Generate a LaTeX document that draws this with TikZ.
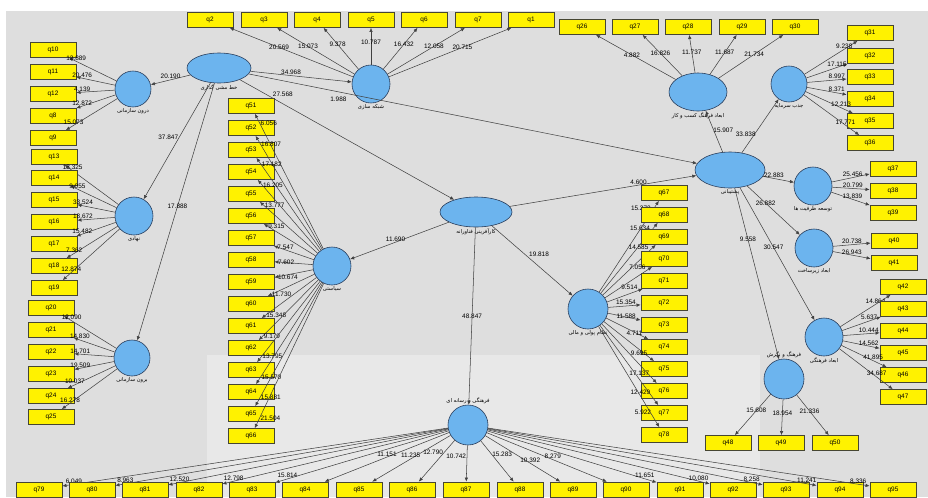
\documentclass[tikz,border=0pt]{standalone}
\usepackage{fontspec}
\setmainfont{Liberation Sans}
\newfontfamily\fafont[Script=Arabic]{DejaVu Sans}
\TeXXeTstate=1
\usetikzlibrary{shapes.geometric,arrows.meta}
\definecolor{bgray}{RGB}{222,222,222}
\definecolor{lgray}{RGB}{232,232,232}
\definecolor{lvblue}{RGB}{108,180,238}
\definecolor{lvline}{RGB}{40,60,90}
\definecolor{boxline}{RGB}{70,70,50}

\begin{document}
\begin{tikzpicture}[x=0.03cm, y=-0.03cm,
  lv/.style={circle, draw=lvline, fill=lvblue, line width=0.5pt, inner sep=0pt},
  lve/.style={ellipse, draw=lvline, fill=lvblue, line width=0.5pt, inner sep=0pt},
  ind/.style={rectangle, draw=boxline, fill=yellow, line width=0.6pt, minimum width=1.38cm, minimum height=0.45cm, inner sep=0pt, font=\fontsize{5.5}{6}\selectfont},
  ar/.style={draw=black!75, line width=0.45pt, -{Latex[length=3.5pt,width=3pt]}},
  lbl/.style={font=\fontsize{5.5}{6}\selectfont, inner sep=0.6pt},
  nm/.style={font=\fontsize{4.5}{5}\selectfont\fafont, inner sep=1pt}]
\useasboundingbox (0,0) rectangle (928,497);
\fill[white] (0,0) rectangle (928,497);
\fill[bgray] (6,11) rectangle (928,497);
\fill[lgray] (207,355) rectangle (760,497);

% latent variables
\node[lve, minimum width=1.92cm, minimum height=0.9cm, label={[nm]below:{\beginR خط مشی گذاری\endR}}] (pol) at (219,68) {};
\node[lv, minimum size=1.14cm, label={[nm]below:{\beginR شبکه سازی\endR}}] (net) at (371,84) {};
\node[lv, minimum size=1.08cm, label={[nm]below:{\beginR درون سازمانی\endR}}] (intra) at (133,89) {};
\node[lv, minimum size=1.14cm, label={[nm]below:{\beginR نهادی\endR}}] (inst) at (134,216) {};
\node[lv, minimum size=1.08cm, label={[nm]below:{\beginR برون سازمانی\endR}}] (extra) at (132,358) {};
\node[lv, minimum size=1.14cm, label={[nm]below:{\beginR سیاستی\endR}}] (gov) at (332,266) {};
\node[lve, minimum width=2.16cm, minimum height=0.9cm, label={[nm]below:{\beginR کارآفرینی فناورانه\endR}}] (te) at (476,212) {};
\node[lv, minimum size=1.2cm, label={[nm]below:{\beginR نظام پولی و مالی\endR}}] (fin) at (588,309) {};
\node[lv, minimum size=1.2cm, label={[nm]above:{\beginR فرهنگی و رسانه ای\endR}}] (med) at (468,425) {};
\node[lve, minimum width=2.1cm, minimum height=1.08cm, label={[nm]below:{\beginR پشتیبانی\endR}}] (sup) at (730,170) {};
\node[lve, minimum width=1.74cm, minimum height=1.14cm, label={[nm]below:{\beginR ابعاد فرهنگ کسب و کار\endR}}] (biz) at (698,92) {};
\node[lv, minimum size=1.08cm, label={[nm]below:{\beginR جذب سرمایه\endR}}] (cap) at (789,84) {};
\node[lv, minimum size=1.14cm, label={[nm]below:{\beginR توسعه ظرفیت ها\endR}}] (dev) at (813,186) {};
\node[lv, minimum size=1.14cm, label={[nm]below:{\beginR ابعاد زیرساخت\endR}}] (infra) at (814,248) {};
\node[lv, minimum size=1.14cm, label={[nm]below:{\beginR ابعاد فرهنگی\endR}}] (cult) at (824,337) {};
\node[lv, minimum size=1.2cm, label={[nm]above:{\beginR فرهنگ و نگرش\endR}}] (att) at (784,379) {};

% structural paths
\draw[ar] (pol) -- node[lbl, pos=.5, anchor=south] {20.190} (intra);
\draw[ar] (pol) -- node[lbl, pos=.4, anchor=south] {34.968} (net);
\draw[ar] (pol) -- node[lbl, pos=.15, anchor=south west] {27.568} (te);
\draw[ar] (pol) -- node[lbl, pos=.2, anchor=north, yshift=-4pt] {1.988} (sup);
\draw[ar] (pol) -- node[lbl, pos=.47, anchor=east] {37.847} (inst);
\draw[ar] (pol) -- node[lbl, pos=.48] {17.888} (extra);
\draw[ar] (te) -- node[lbl, pos=.54, anchor=south] {11.690} (gov);
\draw[ar] (te) -- node[lbl, pos=.45, anchor=south west] {19.818} (fin);
\draw[ar] (te) -- node[lbl, pos=.5] {48.847} (med);
\draw[ar] (te) -- node[lbl, pos=.69, anchor=south] {4.600} (sup);
\draw[ar] (sup) -- node[lbl, pos=.6, anchor=north west] {15.907} (biz);
\draw[ar] (sup) -- node[lbl, pos=.4, anchor=north east] {33.838} (cap);
\draw[ar] (sup) -- node[lbl, pos=.35, anchor=south] {22.883} (dev);
\draw[ar] (sup) -- node[lbl, pos=.35] {26.882} (infra);
\draw[ar] (sup) -- node[lbl, pos=.45] {30.547} (cult);
\draw[ar] (sup) -- node[lbl, pos=.3] {9.558} (att);

% indicators
\foreach \n/\x/\v in {q2/210/20.569, q3/264/15.073, q4/317/9.378, q5/371/10.787, q6/424/16.432, q7/478/12.058, q1/531/20.715} {
  \node[ind] (\n) at (\x,20) {\n};
  \draw[ar] (net) -- node[lbl, pos=.6] {\v} (\n);
}
\foreach \n/\y/\v in {q10/50/12.889, q11/72/20.476, q12/94/4.139, q8/116/12.872, q9/138/15.073} {
  \node[ind] (\n) at (53,\y) {\n};
  \draw[ar] (intra) -- node[lbl, pos=.85, anchor=south] {\v} (\n);
}
\foreach \n/\y/\v in {q13/157/13.325, q14/178/9.055, q15/200/33.524, q16/222/18.672, q17/244/15.482, q18/266/7.362, q19/288/12.874} {
  \node[ind] (\n) at (54,\y) {\n};
  \draw[ar] (inst) -- node[lbl, pos=.85, anchor=south] {\v} (\n);
}
\foreach \n/\y/\v in {q20/308/12.090, q21/330/14.830, q22/352/14.701, q23/374/19.509, q24/396/10.037, q25/417/16.278} {
  \node[ind] (\n) at (51,\y) {\n};
  \draw[ar] (extra) -- node[lbl, pos=.85, anchor=south] {\v} (\n);
}
\foreach \n/\y in {q51/106, q52/128, q53/150, q54/172, q55/194, q56/216, q57/238, q58/260, q59/282, q60/304, q61/326, q62/348, q63/370, q64/392, q65/414, q66/436}
  \node[ind] (\n) at (251,\y) {\n};
\foreach \n/\v in {q51/6.056, q52/16.807, q53/17.182, q54/16.205, q55/13.777, q56/9.315, q57/7.547, q58/7.602, q59/10.674, q60/11.730, q61/15.348, q62/9.179, q63/13.795, q64/15.570, q65/15.881, q66/21.504}
  \draw[ar] (gov) -- node[lbl, pos=.93, anchor=west] {\v} (\n);
\foreach \n/\y/\v in {q67/193/15.273, q68/215/15.634, q69/237/14.585, q70/259/7.056, q71/281/9.514, q72/303/15.354, q73/325/11.588, q74/347/4.711, q75/369/9.695, q76/391/17.137, q77/413/12.429, q78/435/5.922} {
  \node[ind] (\n) at (664,\y) {\n};
  \draw[ar] (fin) -- node[lbl, pos=.88, anchor=south east] {\v} (\n);
}
\foreach \n/\x/\v in {q26/582/4.882, q27/635/16.826, q28/688/11.737, q29/742/11.687, q30/795/21.734} {
  \node[ind] (\n) at (\x,27) {\n};
  \draw[ar] (biz) -- node[lbl, pos=.55] {\v} (\n);
}
\foreach \n/\y/\v in {q31/33/9.238, q32/56/17.115, q33/77/8.997, q34/99/8.371, q35/121/12.213, q36/143/17.771} {
  \node[ind] (\n) at (870,\y) {\n};
  \draw[ar] (cap) -- node[lbl, pos=.75, anchor=south] {\v} (\n);
}
\foreach \n/\y/\v in {q37/169/25.456, q38/191/20.799, q39/213/13.839} {
  \node[ind] (\n) at (893,\y) {\n};
  \draw[ar] (dev) -- node[lbl, pos=.55, anchor=south] {\v} (\n);
}
\foreach \n/\y/\v in {q40/241/20.738, q41/263/26.943} {
  \node[ind] (\n) at (894,\y) {\n};
  \draw[ar] (infra) -- node[lbl, pos=.5, anchor=south] {\v} (\n);
}
\foreach \n/\y/\v in {q42/287/14.864, q43/309/5.637, q44/331/10.444, q45/353/14.562, q46/375/41.895, q47/397/34.687} {
  \node[ind] (\n) at (903,\y) {\n};
  \draw[ar] (cult) -- node[lbl, pos=.7, anchor=south] {\v} (\n);
}
\foreach \n/\x/\v in {q48/728/15.608, q49/781/18.954, q50/835/21.336} {
  \node[ind] (\n) at (\x,443) {\n};
  \draw[ar] (att) -- node[lbl, pos=.4] {\v} (\n);
}
\foreach \n/\x/\v/\p/\a in {q79/39/6.049/.97/south, q80/92/8.963/.97/south, q81/145/12.520/.96/south, q82/199/12.798/.95/south, q83/252/15.814/.93/south, q84/305/11.151/.5/south, q85/359/11.235/.51/south, q86/412/12.790/.3/east, q87/466/10.742/.3/east, q88/520/15.283/.32/west, q89/573/10.392/.6/south, q90/626/8.279/.55/south, q91/680/11.651/.93/south, q92/733/10.080/.95/south, q93/786/8.258/.96/south, q94/840/11.241/.97/south, q95/893/8.336/.97/south} {
  \node[ind] (\n) at (\x,489.5) {\n};
  \draw[ar] (med) -- node[lbl, pos=\p, anchor=\a] {\v} (\n);
}
\end{tikzpicture}
\end{document}
